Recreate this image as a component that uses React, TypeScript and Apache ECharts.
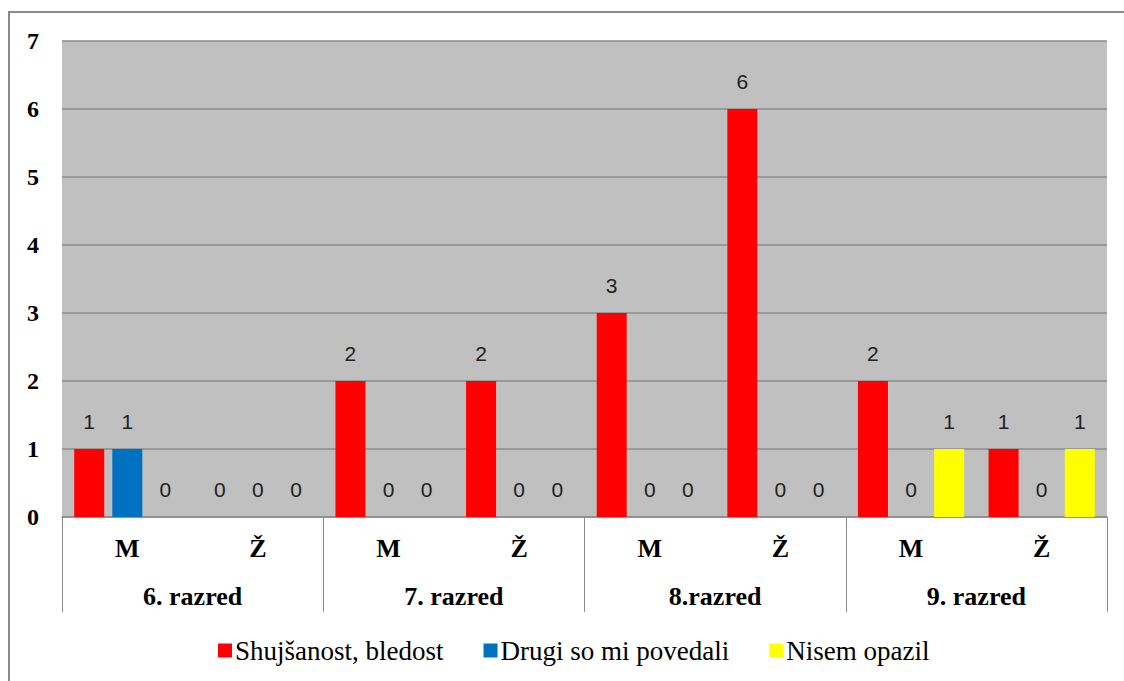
import React, { useEffect, useRef } from "react";
import * as echarts from "echarts";

const genders = ["M", "Ž", "M", "Ž", "M", "Ž", "M", "Ž"];
const grades = ["6. razred", "7. razred", "8.razred", "9. razred"];
const seriesNames = ["Shujšanost, bledost", "Drugi so mi povedali", "Nisem opazil"];
const shujsanost = [1, 0, 2, 2, 3, 6, 2, 1];
const drugi = [1, 0, 0, 0, 0, 0, 0, 0];
const nisem = [0, 0, 0, 0, 0, 0, 1, 1];
const colors = ["#FF0000", "#0070C0", "#FFFF00"];
const yTicks = [0, 1, 2, 3, 4, 5, 6, 7];

const serif = "Liberation Serif";
const sans = "Liberation Sans";

export default function App() {
  const ref = useRef<HTMLDivElement>(null);
  useEffect(() => {
    document.body.style.margin = "0";
    const chart = echarts.init(ref.current!, null, { renderer: "svg" });
    const values = [shujsanost, drugi, nisem];
    chart.setOption({
      animation: false,
      backgroundColor: "#ffffff",
      graphic: [
        {
          type: "rect",
          shape: { x: 9, y: 12, width: 1200, height: 720 },
          style: { fill: "none", stroke: "#8a8a8a", lineWidth: 2 },
          silent: true,
          z: -10,
        },
      ],
      grid: {
        left: 62,
        top: 41,
        right: 17,
        bottom: 164,
        show: true,
        backgroundColor: "#C0C0C0",
        borderWidth: 0,
      },
      legend: {
        top: 637,
        left: 218,
        padding: 0,
        icon: "rect",
        itemWidth: 14,
        itemHeight: 14,
        itemGap: 40,
        data: seriesNames,
        textStyle: { fontFamily: serif, fontSize: 27, color: "#000", padding: [0, 0, 0, -2] },
      },
      xAxis: [
        {
          type: "category",
          data: genders,
          position: "bottom",
          axisLine: { show: true, lineStyle: { color: "#8c8c8c", width: 1.5 } },
          axisTick: { show: false },
          axisLabel: {
            interval: 0,
            margin: 18,
            fontFamily: serif,
            fontSize: 26,
            fontWeight: "bold",
            color: "#000",
          },
        },
        {
          type: "category",
          data: grades,
          position: "bottom",
          axisLine: { show: false },
          axisTick: { show: true, length: 95, interval: 0, lineStyle: { color: "#8c8c8c", width: 1 } },
          axisLabel: {
            interval: 0,
            margin: 66,
            fontFamily: serif,
            fontSize: 26,
            fontWeight: "bold",
            color: "#000",
          },
        },
      ],
      yAxis: {
        type: "value",
        min: yTicks[0],
        max: yTicks[yTicks.length - 1],
        interval: 1,
        axisLine: { show: false },
        axisTick: { show: false },
        splitLine: { show: true, lineStyle: { color: "#8c8c8c", width: 1.5 } },
        axisLabel: {
          margin: 23,
          fontFamily: serif,
          fontSize: 24,
          fontWeight: "bold",
          color: "#000",
        },
      },
      series: seriesNames.map((name, i) => ({
        name,
        type: "bar",
        xAxisIndex: 0,
        data: values[i],
        barWidth: 30,
        barGap: "27%",
        itemStyle: { color: colors[i] },
        label: {
          show: true,
          position: "top",
          distance: 17,
          fontFamily: sans,
          fontSize: 21,
          color: "#222",
        },
      })),
    });
    return () => chart.dispose();
  }, []);
  return <div ref={ref} style={{ width: 1124, height: 681 }} />;
}
